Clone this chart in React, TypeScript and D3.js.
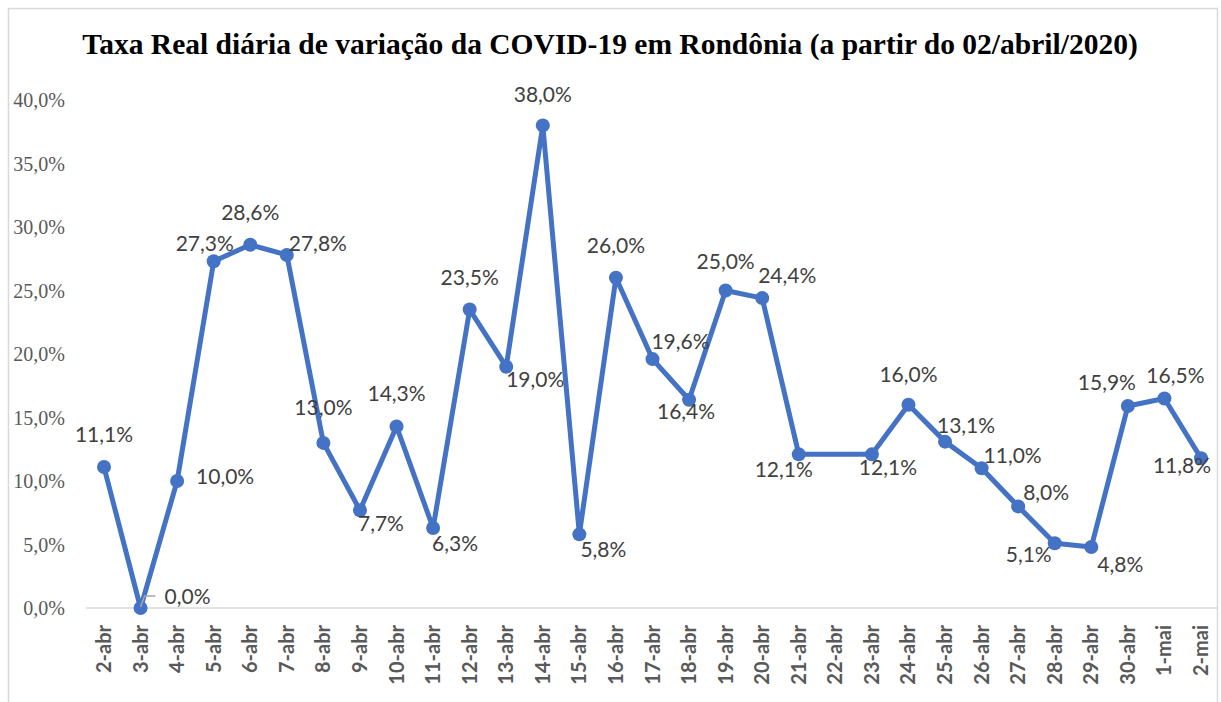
import React from "react";
import * as d3 from "d3";

const categories = ["2-abr","3-abr","4-abr","5-abr","6-abr","7-abr","8-abr","9-abr","10-abr","11-abr","12-abr","13-abr","14-abr","15-abr","16-abr","17-abr","18-abr","19-abr","20-abr","21-abr","22-abr","23-abr","24-abr","25-abr","26-abr","27-abr","28-abr","29-abr","30-abr","1-mai","2-mai"];
const values: (number | null)[] = [11.1,0.0,10.0,27.3,28.6,27.8,13.0,7.7,14.3,6.3,23.5,19.0,38.0,5.8,26.0,19.6,16.4,25.0,24.4,12.1,null,12.1,16.0,13.1,11.0,8.0,5.1,4.8,15.9,16.5,11.8];
const yTicks = [0,5,10,15,20,25,30,35,40];
const title = "Taxa Real diária de variação da COVID-19 em Rondônia (a partir do 02/abril/2020)";

// label offsets (dx, dy) relative to point centre
const labelOffsets: [number, number][] = [
  [0,-32],[47,-11],[48,-4],[-9,-18],[0,-32],[31,-11],[0,-35],[21,13],[0,-33],[22,16],
  [0,-32],[29,13],[0,-31],[24,15],[0,-32],[28,-17],[-3,12],[0,-29],[25,-22],[-15,15],
  [0,0],[16,13],[0,-30],[21,-16],[31,-13],[28,-14],[-26,11],[29,18],[-21,-23],[11,-23],[-19,8]
];

const fmt = (v: number) => v.toFixed(1).replace(".", ",") + "%";

export default function App() {
  const W = 1221, H = 702;
  const x = d3.scalePoint<string>().domain(categories).range([104, 1201]);
  const y = d3.scaleLinear().domain([0, 40]).range([608, 100]);
  const pts = categories.map((c, i) => ({ c, v: values[i], i })).filter(d => d.v !== null) as { c: string; v: number; i: number }[];
  const line = d3.line<{ c: string; v: number }>().x(d => x(d.c)!).y(d => y(d.v));
  const labelFont = "Lato, 'Open Sans', sans-serif";
  const x3 = x("3-abr")!;
  return (
    <svg width={W} height={H} style={{ position: "absolute", left: 0, top: 0, background: "#fff" }}>
      <rect x={8.5} y={8.5} width={1209} height={720} fill="#fff" stroke="#d9d9d9" strokeWidth={1.5} />
      <text x={610} y={54} textAnchor="middle" fontFamily="'Liberation Serif', 'Times New Roman', serif" fontWeight="bold" fontSize={29.5} fill="#000">{title}</text>
      <line x1={86} x2={1218} y1={y(0)} y2={y(0)} stroke="#d9d9d9" strokeWidth={1.5} />
      {yTicks.map(t => (
        <text key={t} x={65} y={y(t)} dy="0.35em" textAnchor="end" fontFamily="'Liberation Serif', 'Times New Roman', serif" fontSize={20} fill="#595959">{fmt(t)}</text>
      ))}
      {categories.map(c => (
        <text key={c} transform={`translate(${x(c)! + 7},${625}) rotate(-90)`} textAnchor="end" fontFamily={labelFont} fontWeight="bold" fontSize={20} fill="#595959">{c}</text>
      ))}
      <path d={line(pts)!} fill="none" stroke="#4472C4" strokeWidth={5} strokeLinejoin="round" />
      {pts.map(d => (
        <circle key={d.c} cx={x(d.c)!} cy={y(d.v)} r={7} fill="#4472C4" />
      ))}
      {/* leader line for 0,0% */}
      <polyline points={`${x3},${y(0) - 1} ${x3 + 4},${y(0) - 12} ${x3 + 15},${y(0) - 12}`} fill="none" stroke="#a6a6a6" strokeWidth={1.5} />
      {pts.map(d => (
        <text key={"l" + d.c} x={x(d.c)! + labelOffsets[d.i][0]} y={y(d.v) + labelOffsets[d.i][1]} dy="0.35em" textAnchor="middle" fontFamily={labelFont} fontSize={21} fill="#404040">{fmt(d.v)}</text>
      ))}
    </svg>
  );
}
